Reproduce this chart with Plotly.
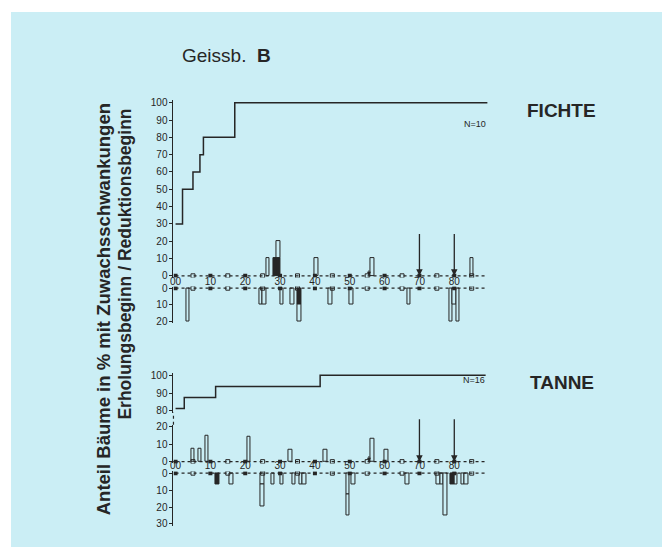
import plotly.graph_objects as go

# The page body has an 8 px margin, so the figure is placed at (8, 8) in the window.
OFF = 8
W, H = 670 - OFF, 554 - OFF

# ---------------- data ----------------
YEAR_TICKS = [0, 10, 20, 30, 40, 50, 60, 70, 80]
YEAR_TICK_LABELS = ["00", "10", "20", "30", "40", "50", "60", "70", "80"]
HALF_DECADES = [5, 15, 25, 35, 45, 55, 65, 75, 85]
F_BASELINE_YEARS = [0, 89.5]
T_BASELINE_YEARS = [0, 89]

# FICHTE (N=10)
F_STEP_YEARS = [0, 2, 5, 7, 8, 17, 89.5]
F_STEP_PCT = [30, 50, 60, 70, 80, 100, 100]
F_UP_OPEN_YEARS = [26.5, 40.5, 56.5, 85]
F_UP_OPEN_PCT = [10, 10, 10, 10]
F_UP_BLACK_YEARS = [28.5, 29.5]
F_UP_BLACK_PCT = [10, 10]
F_UP_STACK_YEARS = [29.5]
F_UP_STACK_BASE = [10]
F_UP_STACK_PCT = [10]
F_DN_OPEN_YEARS = [3.5, 24.5, 25.5, 30.5, 33.5, 44.5, 50.5, 67, 79, 80, 81]
F_DN_OPEN_PCT = [20, 10, 10, 10, 10, 10, 10, 10, 20, 10, 20]
F_DN_BLACK_YEARS = [35.5]
F_DN_BLACK_PCT = [10]
F_DN_STACK_YEARS = [35.5]
F_DN_STACK_BASE = [10]
F_DN_STACK_PCT = [10]

# TANNE (N=16)
T_STEP_YEARS = [0, 2.5, 11.5, 41.5, 89]
T_STEP_PCT = [81.25, 87.5, 93.75, 100, 100]
T_UP_OPEN_YEARS = [5, 7, 9, 21, 33, 43, 56.5, 60.5]
T_UP_OPEN_PCT = [7.5, 7.5, 14.5, 14, 7, 7, 13, 7]
T_DN_OPEN_YEARS = [16, 25, 28, 30.5, 34, 36, 37, 49.5, 51, 66.5, 75.5, 76.5, 77.5, 80.5, 82.5, 83.5]
T_DN_OPEN_PCT = [6.5, 6.5, 6.5, 6.5, 6.5, 6.5, 6.5, 12.5, 6.5, 6.5, 6.5, 6.5, 25, 6.5, 6.5, 6.5]
T_DN_BLACK_YEARS = [12, 79.5]
T_DN_BLACK_PCT = [6.5, 6.5]
T_DN_STACK_YEARS = [25, 49.5]
T_DN_STACK_BASE = [6.5, 12.5]
T_DN_STACK_PCT = [13, 12.5]

EVENT_YEARS = [70, 80]
EVENT_FROM = 25
MINOR_EVENT_YEAR = 55.5
MINOR_EVENT_FROM = 4

# ---------------- style ----------------
BG = "#cbeef5"
INK = "#262626"
FONT = "Liberation Sans"
BAR_W = 1.0


def px(x):
    """window x pixel -> paper fraction"""
    return (x - OFF) / W


def py(y):
    """window y pixel -> paper fraction"""
    return 1 - (y - OFF) / H


fig = go.Figure()


def add_bars(xs, ys, base, xa, ya, fill):
    fig.add_trace(go.Bar(
        x=xs, y=ys, base=base, width=BAR_W, xaxis=xa, yaxis=ya,
        marker=dict(color=fill, line=dict(color=INK, width=1)),
        showlegend=False, hoverinfo="skip"))


def add_baseline(years, xa, ya):
    fig.add_trace(go.Scatter(
        x=years, y=[0] * len(years), mode="lines", xaxis=xa, yaxis=ya,
        line=dict(color=INK, width=1.3, dash="dot"),
        showlegend=False, hoverinfo="skip"))
    fig.add_trace(go.Scatter(
        x=YEAR_TICKS, y=[0] * len(YEAR_TICKS), mode="markers", xaxis=xa, yaxis=ya,
        marker=dict(symbol="square", size=4, color=INK),
        showlegend=False, hoverinfo="skip"))
    fig.add_trace(go.Scatter(
        x=HALF_DECADES, y=[0] * len(HALF_DECADES), mode="markers", xaxis=xa, yaxis=ya,
        marker=dict(symbol="square-open", size=4, color=INK, line=dict(width=1)),
        showlegend=False, hoverinfo="skip"))


# ---- FICHTE ----
add_baseline(F_BASELINE_YEARS, "x", "y")
add_baseline(F_BASELINE_YEARS, "x", "y2")
fig.add_trace(go.Scatter(x=F_STEP_YEARS, y=F_STEP_PCT, mode="lines", line_shape="hv",
                         line=dict(color=INK, width=1.5), xaxis="x", yaxis="y",
                         showlegend=False, hoverinfo="skip"))
add_bars(F_UP_OPEN_YEARS, F_UP_OPEN_PCT, None, "x", "y", BG)
add_bars(F_UP_BLACK_YEARS, F_UP_BLACK_PCT, None, "x", "y", INK)
add_bars(F_UP_STACK_YEARS, F_UP_STACK_PCT, F_UP_STACK_BASE, "x", "y", BG)
add_bars(F_DN_OPEN_YEARS, F_DN_OPEN_PCT, None, "x", "y2", BG)
add_bars(F_DN_BLACK_YEARS, F_DN_BLACK_PCT, None, "x", "y2", INK)
add_bars(F_DN_STACK_YEARS, F_DN_STACK_PCT, F_DN_STACK_BASE, "x", "y2", BG)

# ---- TANNE ----
add_baseline(T_BASELINE_YEARS, "x2", "y4")
add_baseline(T_BASELINE_YEARS, "x2", "y5")
fig.add_trace(go.Scatter(x=T_STEP_YEARS, y=T_STEP_PCT, mode="lines", line_shape="hv",
                         line=dict(color=INK, width=1.5), xaxis="x2", yaxis="y3",
                         showlegend=False, hoverinfo="skip"))
add_bars(T_UP_OPEN_YEARS, T_UP_OPEN_PCT, None, "x2", "y4", BG)
add_bars(T_DN_OPEN_YEARS, T_DN_OPEN_PCT, None, "x2", "y5", BG)
add_bars(T_DN_BLACK_YEARS, T_DN_BLACK_PCT, None, "x2", "y5", INK)
add_bars(T_DN_STACK_YEARS, T_DN_STACK_PCT, T_DN_STACK_BASE, "x2", "y5", BG)

# ---- arrows ----
annotations = []
for xr, yr in (("x", "y"), ("x2", "y4")):
    for yrs in EVENT_YEARS:
        annotations.append(dict(x=yrs, y=0, ax=yrs, ay=EVENT_FROM, xref=xr, yref=yr,
                                axref=xr, ayref=yr, text="", showarrow=True,
                                arrowhead=2, arrowsize=1, arrowwidth=1.3, arrowcolor=INK))
    annotations.append(dict(x=MINOR_EVENT_YEAR, y=0, ax=MINOR_EVENT_YEAR, ay=MINOR_EVENT_FROM,
                            xref=xr, yref=yr, axref=xr, ayref=yr, text="", showarrow=True,
                            arrowhead=2, arrowsize=0.8, arrowwidth=1, arrowcolor=INK))

# ---- texts ----
annotations += [
    dict(text="Geissb.  <b>B</b>", x=px(178), y=py(52), xref="paper", yref="paper",
         xanchor="left", yanchor="middle", showarrow=False,
         font=dict(family=FONT, size=19, color=INK)),
    dict(text="<b>FICHTE</b>", x=px(524), y=py(108), xref="paper", yref="paper",
         xanchor="left", yanchor="middle", showarrow=False,
         font=dict(family=FONT, size=19, color=INK)),
    dict(text="<b>TANNE</b>", x=px(527), y=py(384), xref="paper", yref="paper",
         xanchor="left", yanchor="middle", showarrow=False,
         font=dict(family=FONT, size=19, color=INK)),
    dict(text="N=10", x=px(487), y=py(122), xref="paper", yref="paper",
         xanchor="right", yanchor="middle", showarrow=False,
         font=dict(family=FONT, size=9, color=INK)),
    dict(text="N=16", x=px(486), y=py(381), xref="paper", yref="paper",
         xanchor="right", yanchor="middle", showarrow=False,
         font=dict(family=FONT, size=9, color=INK)),
    dict(text="<b>Anteil Bäume in % mit Zuwachsschwankungen</b>", x=px(101), y=py(99),
         xref="paper", yref="paper", xanchor="center", yanchor="top", textangle=-90,
         showarrow=False, font=dict(family=FONT, size=18.5, color=INK)),
    dict(text="<b>Erholungsbeginn / Reduktionsbeginn</b>", x=px(123), y=py(104),
         xref="paper", yref="paper", xanchor="center", yanchor="top", textangle=-90,
         showarrow=False, font=dict(family=FONT, size=17.5, color=INK)),
]

tickfont = dict(family=FONT, size=10, color=INK)
yax_common = dict(showgrid=False, zeroline=False, showline=True, linecolor=INK, linewidth=1,
                  ticks="outside", ticklen=3, tickcolor=INK, tickfont=tickfont, fixedrange=True)
xax_common = dict(showgrid=False, zeroline=False, showline=False, ticks="",
                  tickvals=YEAR_TICKS, ticktext=YEAR_TICK_LABELS, tickfont=tickfont,
                  range=[-0.6, 90], domain=[px(171.2), px(488.3)], anchor="free")

fig.update_layout(
    width=W, height=H, margin=dict(l=0, r=0, t=0, b=0),
    paper_bgcolor="white", plot_bgcolor="rgba(0,0,0,0)",
    barmode="overlay", bargap=0,
    showlegend=False,
    xaxis=dict(**xax_common, position=py(274)),
    xaxis2=dict(**xax_common, position=py(460.5)),
    yaxis=dict(**yax_common, anchor="x", domain=[py(277.5), py(97.4)], range=[-1, 101.5],
               tickvals=[0, 10, 20, 30, 40, 50, 60, 70, 80, 90, 100]),
    yaxis2=dict(**yax_common, anchor="x", domain=[py(324), py(286.6)], range=[21, -1],
                tickvals=[0, 10, 20]),
    yaxis3=dict(**yax_common, anchor="x2", domain=[py(414.5), py(374)], range=[79, 101.5],
                tickvals=[80, 90, 100]),
    yaxis4=dict(**yax_common, anchor="x2", domain=[py(466.1), py(426.9)], range=[-1, 21],
                tickvals=[0, 10, 20]),
    yaxis5=dict(**yax_common, anchor="x2", domain=[py(529.3), py(474.3)], range=[31, -1],
                tickvals=[0, 10, 20, 30]),
    annotations=annotations,
    shapes=[
        dict(type="rect", xref="paper", yref="paper", x0=px(8), x1=px(662), y0=py(551), y1=1,
             fillcolor=BG, line=dict(width=0), layer="below"),
        dict(type="line", xref="paper", yref="paper", x0=px(171.2), x1=px(171.2),
             y0=py(426.9), y1=py(414.5), line=dict(color=INK, width=1.2, dash="dot")),
    ],
)

fig.write_html("out.html")
